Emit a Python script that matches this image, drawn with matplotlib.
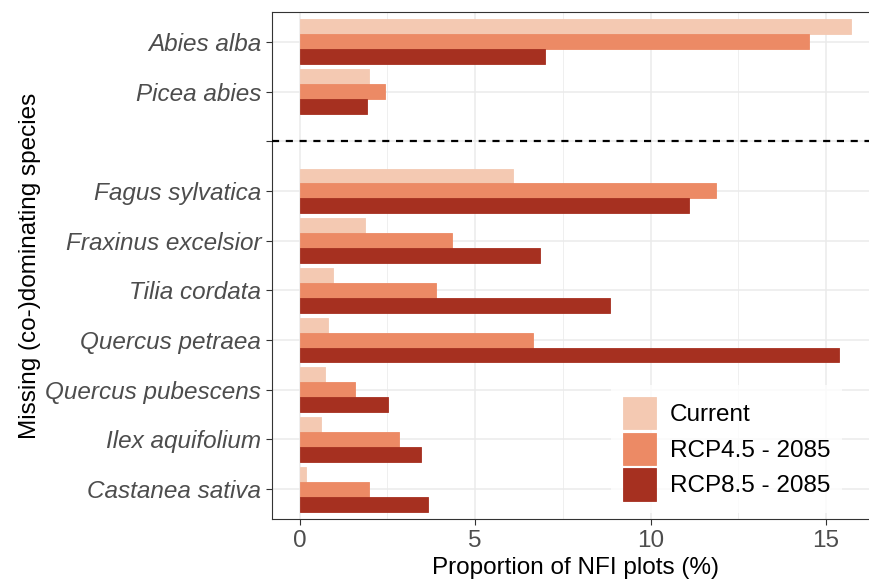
import numpy as np
import matplotlib
matplotlib.use("Agg")
import matplotlib.pyplot as plt

# species grouped: conifers on top, broadleaves below the dashed separator
species_top = ["Abies alba", "Picea abies"]
species_bottom = ["Fagus sylvatica", "Fraxinus excelsior", "Tilia cordata",
                  "Quercus petraea", "Quercus pubescens", "Ilex aquifolium",
                  "Castanea sativa"]

# proportion of NFI plots (%) where the species is missing
current = [15.72, 1.97, 6.07, 1.87, 0.95, 0.82, 0.72, 0.62, 0.18]
rcp45 = [14.51, 2.44, 11.86, 4.34, 3.90, 6.65, 1.59, 2.84, 1.98]
rcp85 = [6.99, 1.91, 11.10, 6.85, 8.83, 15.38, 2.51, 3.47, 3.66]

scenarios = ["Current", "RCP4.5 - 2085", "RCP8.5 - 2085"]
colors = ["#F4C9B2", "#EC8A65", "#A63020"]

plt.rcParams["font.family"] = ["Liberation Sans", "DejaVu Sans"]
fs = 17.5

# discrete y slots, one empty slot for the separator line
labels = species_top + [""] + species_bottom
n = len(labels)
slot = {lab: n - i for i, lab in enumerate(labels)}
y_species = np.array([slot[s] for s in species_top + species_bottom], dtype=float)
y_sep = slot[""]

W, H = 869, 580
fig = plt.figure(figsize=(W / 100, H / 100), dpi=100)

xmax = max(max(current), max(rcp45), max(rcp85))
xlo, xhi = -0.05 * xmax, xmax * 1.05
px_per_unit = 35.1
left_px, top_px, bottom_px = 272, 12, 519
ax = fig.add_axes([left_px / W, 1 - bottom_px / H,
                   (xhi - xlo) * px_per_unit / W, (bottom_px - top_px) / H])

bh = 0.3
for vals, off, col, name in zip([current, rcp45, rcp85], [bh, 0, -bh], colors, scenarios):
    ax.barh(y_species + off, vals, height=bh, color=col, edgecolor=col,
            linewidth=0.6, label=name, zorder=3)

ax.axhline(y_sep, color="black", linestyle=(0, (3.2, 3)), linewidth=1.6, zorder=4)

ax.set_xlim(xlo, xhi)
ax.set_ylim(0.4, n + 0.6)
ax.set_yticks([slot[l] for l in labels])
ax.set_yticklabels(labels, fontstyle="italic")
ax.set_xticks([0, 5, 10, 15])
ax.set_xticks([2.5, 7.5, 12.5], minor=True)

ax.grid(True, which="major", color="#EBEBEB", linewidth=1.1, zorder=0)
ax.grid(True, which="minor", axis="x", color="#EBEBEB", linewidth=0.55, zorder=0)
ax.set_axisbelow(True)

ax.tick_params(axis="both", which="major", labelsize=fs, colors="#333333",
               labelcolor="#4D4D4D", length=4.3, width=0.8, pad=3.5)
ax.tick_params(axis="both", which="minor", length=0)
for sp in ax.spines.values():
    sp.set_color("#333333")
    sp.set_linewidth(0.8)

ax.set_xlabel("Proportion of NFI plots (%)", fontsize=fs, labelpad=4)
ax.set_ylabel("Missing (co-)dominating species", fontsize=fs, labelpad=3)

leg = ax.legend(loc="upper left", bbox_transform=fig.transFigure,
                bbox_to_anchor=(611 / W, 1 - 385 / H), fontsize=fs,
                handlelength=1.36, handleheight=1.65, labelspacing=0.15,
                handletextpad=0.55, borderpad=0.5, borderaxespad=0,
                frameon=True, fancybox=False)
leg.get_frame().set_facecolor("white")
leg.get_frame().set_edgecolor("none")
leg.set_zorder(10)

fig.savefig("out.png", dpi=100)
